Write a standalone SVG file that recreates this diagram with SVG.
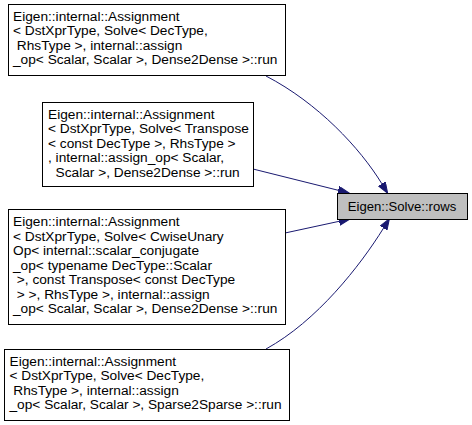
<svg xmlns="http://www.w3.org/2000/svg" width="472" height="425" viewBox="0 0 472 425">
<style>
.n rect{fill:#ffffff;stroke:#000000;stroke-width:1}
.c rect{fill:#bfbfbf;stroke:#000000;stroke-width:1}
text{font-family:"Liberation Sans",Arial,Helvetica,sans-serif;font-size:13.7px;fill:#000000;white-space:pre}
.c text{font-size:13.1px}
.e path{stroke:#191970;stroke-width:1;fill:none;marker-end:url(#ah)}
</style>
<defs>
<marker id="ah" markerUnits="userSpaceOnUse" markerWidth="12" markerHeight="9" refX="0" refY="4" orient="auto" viewBox="0 0 12 9">
<path d="M0,0 L11,4 L0,8 Z" fill="#191970" stroke="#191970" stroke-width="1"/>
</marker>
</defs>
<g id="edges" class="e">
<path d="M266,76 C318,103 360,148 381.9,183.8"/>
<path d="M253,169 L338.3,190.3"/>
<path d="M285,233 L339.2,221.3"/>
<path d="M266,349 C317,321 360,266 383.6,228"/>
</g>
<g id="node_solve_rows" class="c">
<rect x="337.5" y="193.5" width="130" height="26"/>
<text x="402" y="211" text-anchor="middle">Eigen::Solve::rows</text>
</g>
<g id="node_assign_dense" class="n">
<rect x="8.5" y="4.5" width="277" height="71"/>
<text x="13" y="20.5" xml:space="preserve">Eigen::internal::Assignment</text>
<text x="13" y="35" xml:space="preserve">&lt; DstXprType, Solve&lt; DecType,</text>
<text x="13" y="49.5" xml:space="preserve"> RhsType &gt;, internal::assign</text>
<text x="13" y="64" xml:space="preserve">_op&lt; Scalar, Scalar &gt;, Dense2Dense &gt;::run</text>
</g>
<g id="node_assign_transpose" class="n">
<rect x="42.5" y="102.5" width="211" height="84"/>
<text x="48" y="118.5" xml:space="preserve">Eigen::internal::Assignment</text>
<text x="48" y="133" xml:space="preserve">&lt; DstXprType, Solve&lt; Transpose</text>
<text x="48" y="147.5" xml:space="preserve">&lt; const DecType &gt;, RhsType &gt;</text>
<text x="48" y="162" xml:space="preserve">, internal::assign_op&lt; Scalar,</text>
<text x="48" y="176.5" xml:space="preserve">  Scalar &gt;, Dense2Dense &gt;::run</text>
</g>
<g id="node_assign_conjugate" class="n">
<rect x="8.5" y="209.5" width="277" height="115"/>
<text x="13" y="226" xml:space="preserve">Eigen::internal::Assignment</text>
<text x="13" y="240.5" xml:space="preserve">&lt; DstXprType, Solve&lt; CwiseUnary</text>
<text x="13" y="255" xml:space="preserve">Op&lt; internal::scalar_conjugate</text>
<text x="13" y="269.5" xml:space="preserve">_op&lt; typename DecType::Scalar</text>
<text x="13" y="284" xml:space="preserve"> &gt;, const Transpose&lt; const DecType</text>
<text x="13" y="298.5" xml:space="preserve"> &gt; &gt;, RhsType &gt;, internal::assign</text>
<text x="13" y="313" xml:space="preserve">_op&lt; Scalar, Scalar &gt;, Dense2Dense &gt;::run</text>
</g>
<g id="node_assign_sparse" class="n">
<rect x="4.5" y="349.5" width="285" height="71"/>
<text x="9.5" y="365.5" xml:space="preserve">Eigen::internal::Assignment</text>
<text x="9.5" y="380" xml:space="preserve">&lt; DstXprType, Solve&lt; DecType,</text>
<text x="9.5" y="394.5" xml:space="preserve"> RhsType &gt;, internal::assign</text>
<text x="9.5" y="409" xml:space="preserve">_op&lt; Scalar, Scalar &gt;, Sparse2Sparse &gt;::run</text>
</g>
</svg>
